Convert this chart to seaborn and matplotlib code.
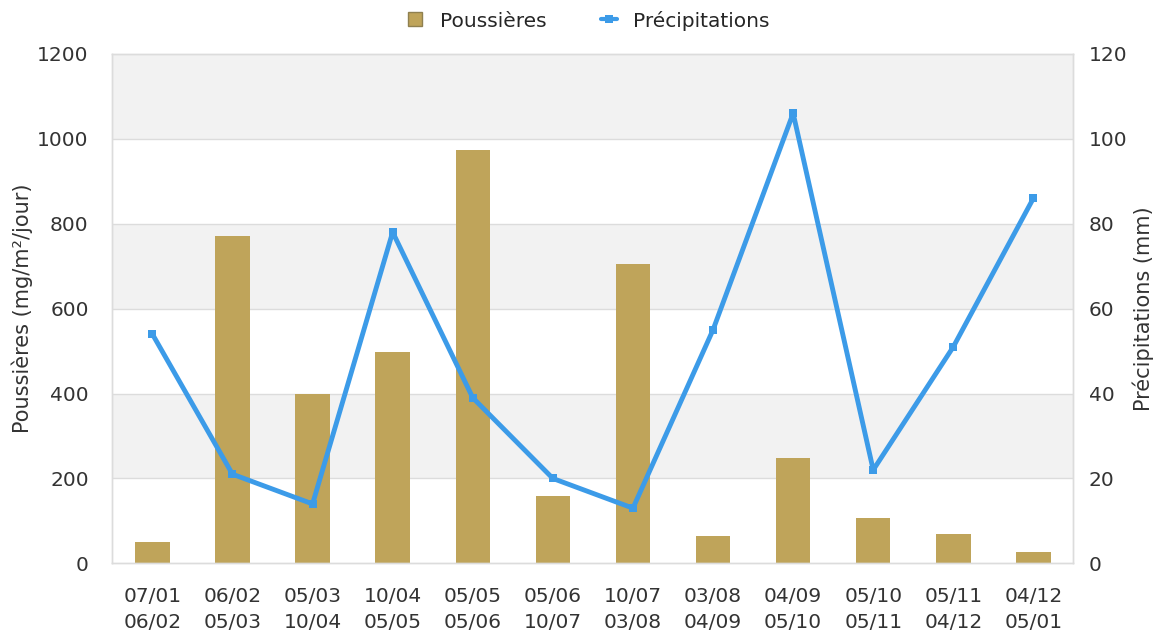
"""
Dust deposition vs rainfall, per sampling period
"""
import matplotlib
matplotlib.use("Agg")
import matplotlib.pyplot as plt
import seaborn as sns
import pandas as pd
from matplotlib.lines import Line2D

periods = ['07/01\n06/02', '06/02\n05/03', '05/03\n10/04', '10/04\n05/05',
           '05/05\n05/06', '05/06\n10/07', '10/07\n03/08', '03/08\n04/09',
           '04/09\n05/10', '05/10\n05/11', '05/11\n04/12', '04/12\n05/01']
poussieres = [50, 771, 400, 497, 974, 158, 705, 64, 248, 106, 68, 26]
precipitations = [54, 21, 14, 78, 39, 20, 13, 55, 106, 22, 51, 86]

df = pd.DataFrame({'periode': periods, 'poussieres': poussieres,
                   'precipitations': precipitations})

bar_color = '#bfa45a'
line_color = '#3c9be8'
grid_color = '#dcdcdc'
text_color = '#333333'

sns.set_style("white")
plt.rcParams['font.family'] = 'sans-serif'
plt.rcParams['font.sans-serif'] = ['DejaVu Sans']

fig, ax = plt.subplots(figsize=(11.58, 6.33), dpi=100)
fig.subplots_adjust(left=0.097, right=0.927, top=0.915, bottom=0.11)

# alternating background bands
for lo in range(200, 1200, 400):
    ax.axhspan(lo, lo + 200, color='#f2f2f2', zorder=0, lw=0)
for y in range(200, 1200, 200):
    ax.axhline(y, color=grid_color, lw=1, zorder=0.5)

sns.barplot(data=df, x='periode', y='poussieres', color=bar_color,
            saturation=1, width=0.43, linewidth=0, ax=ax, zorder=2)
ax.set_ylim(0, 1200)
ax.set_yticks(range(0, 1201, 200))
ax.set_xlim(-0.5, len(periods) - 0.5)
ax.set_xlabel('')
ax.set_ylabel('Poussières (mg/m²/jour)', fontsize=15, color=text_color, labelpad=3)

ax2 = ax.twinx()
sns.lineplot(data=df, x='periode', y='precipitations', color=line_color,
             lw=3.5, marker='s', markersize=6, markeredgewidth=0,
             sort=False, ax=ax2, zorder=3)
ax2.set_ylim(0, 120)
ax2.set_yticks(range(0, 121, 20))
ax2.set_ylabel('Précipitations (mm)', fontsize=15, color=text_color, labelpad=4)
ax2.set_xlabel('')

for a in (ax, ax2):
    a.tick_params(axis='both', length=0, labelsize=14.5, colors=text_color)
    for s in a.spines.values():
        s.set_color(grid_color)
        s.set_linewidth(1)
ax.tick_params(axis='x', pad=17)
ax.tick_params(axis='y', pad=17)
ax2.tick_params(axis='y', pad=11)
for lab in ax.get_xticklabels():
    lab.set_linespacing(1.5)

handles = [Line2D([], [], ls='none', marker='s', markersize=10,
                  markerfacecolor=bar_color, markeredgecolor='#8f8050',
                  label='Poussières'),
           Line2D([], [], color=line_color, lw=3, marker='s', markersize=6,
                  markeredgewidth=0, label='Précipitations')]
fig.legend(handles=handles, loc='upper center', ncol=2, frameon=False,
           fontsize=14.5, bbox_to_anchor=(0.508, 1.012), handlelength=0.8,
           handletextpad=0.8, columnspacing=2.7)

fig.savefig('out.png', dpi=100)
